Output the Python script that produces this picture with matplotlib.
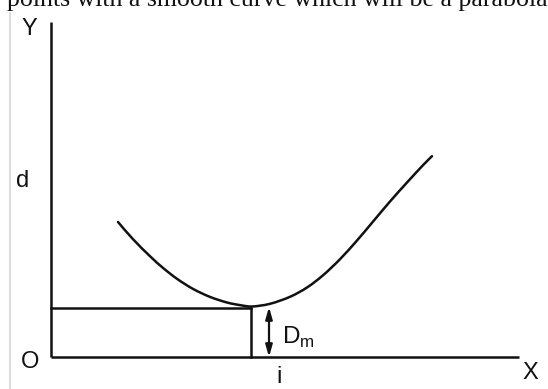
import matplotlib
matplotlib.use("Agg")
import matplotlib.pyplot as plt
from matplotlib.path import Path
from matplotlib.patches import PathPatch

# Sketch coordinates (x to the right, y downward) for the curve d(i)
curve_x = [118, 133, 150, 163, 177, 193, 210, 227, 240, 252, 270, 290, 307, 323, 340, 357, 373, 390, 407, 423, 432]
curve_y = [222, 239.2, 256.2, 267.9, 278.8, 288.9, 296.9, 302.5, 305.1, 306.5, 303.8, 296.8, 287.5,
           275.3, 259.2, 240.5, 221.6, 201.5, 182.5, 165.2, 156.2]

origin = (51, 357)
y_axis_top = 22
x_axis_end = 519
min_x, min_y = 251, 308
arrow_x = 269

axis_labels = {"Y": (21, 29), "d": (16, 181), "O": (21, 362), "i": (276, 377), "X": (522, 373)}

W, H = 548, 389
fig = plt.figure(figsize=(W / 100, H / 100), dpi=100)
ax = fig.add_axes([0, 0, 1, 1])
ax.set_xlim(0, W)
ax.set_ylim(H, 0)
ax.axis("off")

lw = 1.8
ink = "#111111"


def smooth_path(xs, ys):
    """Catmull-Rom curve through the points, expressed as cubic Bezier segments."""
    pts = list(zip(xs, ys))
    verts = [pts[0]]
    codes = [Path.MOVETO]
    for i in range(len(pts) - 1):
        p0 = pts[i - 1] if i > 0 else pts[i]
        p1, p2 = pts[i], pts[i + 1]
        p3 = pts[i + 2] if i + 2 < len(pts) else pts[i + 1]
        c1 = (p1[0] + (p2[0] - p0[0]) / 6, p1[1] + (p2[1] - p0[1]) / 6)
        c2 = (p2[0] - (p3[0] - p1[0]) / 6, p2[1] - (p3[1] - p1[1]) / 6)
        verts += [c1, c2, p2]
        codes += [Path.CURVE4] * 3
    return Path(verts, codes)


# page edge and caption text above the figure
ax.plot([9.5, 9.5], [13, H], color="#d4d4d4", lw=1.2)
ax.text(7, 6, "points with a smooth curve which will be a parabola", family="Liberation Serif",
        fontsize=18.6, va="baseline", ha="left", color="#111111")

# axes
ax.plot([origin[0], origin[0]], [y_axis_top, origin[1]], color=ink, lw=lw, solid_capstyle="butt")
ax.plot([origin[0], x_axis_end], [origin[1], origin[1]], color=ink, lw=lw, solid_capstyle="butt")

# curve
ax.add_patch(PathPatch(smooth_path(curve_x, curve_y), facecolor="none", edgecolor=ink, lw=lw,
                       capstyle="round"))

# minimum marker lines
ax.plot([origin[0], min_x], [min_y, min_y], color=ink, lw=lw)
ax.plot([min_x, min_x], [min_y, origin[1]], color=ink, lw=lw)

# D_m double arrow
ax.annotate("", xy=(arrow_x, min_y - 1), xytext=(arrow_x, origin[1]),
            arrowprops=dict(arrowstyle="<|-|>,head_length=0.7,head_width=0.2", color=ink, lw=1.6,
                            shrinkA=0, shrinkB=0))
ax.text(282, 344, r"D$_{\mathregular{m}}$", family="Liberation Sans", fontsize=17.5, va="baseline",
        ha="left", color=ink)

for lab, (x, y) in axis_labels.items():
    ax.text(x, y, lab, family="Liberation Sans", fontsize=17, va="center", ha="left", color=ink)

fig.savefig("out.png", dpi=100)
